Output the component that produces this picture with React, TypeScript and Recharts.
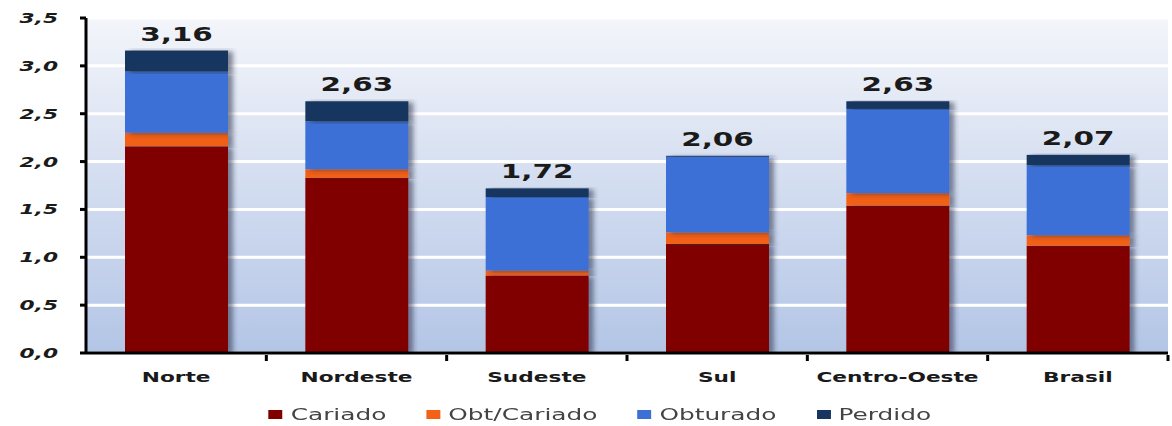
import React from "react";
import {
  BarChart,
  Bar,
  XAxis,
  YAxis,
  CartesianGrid,
  Legend,
  LabelList,
} from "recharts";

const regions = ["Norte", "Nordeste", "Sudeste", "Sul", "Centro-Oeste", "Brasil"];
const cariado = [2.16, 1.83, 0.81, 1.14, 1.54, 1.12];
const obtCariado = [0.14, 0.09, 0.05, 0.12, 0.13, 0.11];
const obturado = [0.64, 0.5, 0.77, 0.79, 0.88, 0.73];
const perdido = [0.22, 0.21, 0.09, 0.01, 0.08, 0.11];
const totals = [3.16, 2.63, 1.72, 2.06, 2.63, 2.07];
const yTicks = [0, 0.5, 1, 1.5, 2, 2.5, 3, 3.5];

const series = [
  { key: "cariado", name: "Cariado", color: "#800000" },
  { key: "obtCariado", name: "Obt/Cariado", color: "#f26116" },
  { key: "obturado", name: "Obturado", color: "#3c70d6" },
  { key: "perdido", name: "Perdido", color: "#17365f" },
];

const data = regions.map((r, i) => ({
  region: r,
  cariado: cariado[i],
  obtCariado: obtCariado[i],
  obturado: obturado[i],
  perdido: perdido[i],
  total: totals[i],
}));

const W = 1172;
const H = 426;
const MARGIN = { top: 18, right: 4, left: 0, bottom: 0 };
const Y_W = 86;
const BAND = (W - MARGIN.left - MARGIN.right - Y_W) / regions.length;
const FONT = "'DejaVu Sans', Verdana, sans-serif";
// the source image is stretched sideways, so text is widened the same way
const STRETCH = 1.55;

const fmt = (v: number, d: number) => v.toFixed(d).replace(".", ",");

// bar segment with a soft shadow to the right
const ShadowBar = (props: any) => {
  const { x, y, width, height, fill } = props;
  if (!height || height <= 0) return null;
  return <rect x={x} y={y} width={width} height={height} fill={fill} filter="url(#barShadow)" />;
};

const WideText = ({ x, y, anchor, size, italic, children }: any) => (
  <text
    transform={`translate(${x},${y}) scale(${STRETCH},1)`}
    textAnchor={anchor}
    fontFamily={FONT}
    fontWeight="bold"
    fontStyle={italic ? "italic" : "normal"}
    fontSize={size}
    fill="#1a1a1a"
  >
    {children}
  </text>
);

const XTick = (props: any) => {
  const { x, y, payload } = props;
  return (
    <g>
      <line x1={x + BAND / 2} y1={y - 6} x2={x + BAND / 2} y2={y} stroke="#000" strokeWidth={3} />
      <WideText x={x} y={y + 21} anchor="middle" size={14}>
        {payload.value}
      </WideText>
    </g>
  );
};

const YTick = (props: any) => {
  const { x, y, payload } = props;
  return (
    <WideText x={x - 20} y={y + 5} anchor="end" size={14} italic>
      {fmt(payload.value, 1)}
    </WideText>
  );
};

const TotalLabel = (props: any) => {
  const { x, y, width, value } = props;
  return (
    <WideText x={x + width / 2} y={y - 10} anchor="middle" size={19}>
      {fmt(value, 2)}
    </WideText>
  );
};

const LegendBox = () => (
  <div
    style={{
      display: "flex",
      justifyContent: "center",
      alignItems: "center",
      fontFamily: FONT,
      fontSize: 16,
      color: "#444",
      width: 1200,
      paddingTop: 6,
      transform: `scaleX(${STRETCH})`,
      transformOrigin: "600px 50%",
    }}
  >
    {series.map((s, i) => (
      <span
        key={s.key}
        style={{ display: "flex", alignItems: "center", marginRight: i < series.length - 1 ? 26 : 0 }}
      >
        <span
          style={{ display: "inline-block", width: 9, height: 9, background: s.color, marginRight: 5 }}
        />
        <span>{s.name}</span>
      </span>
    ))}
  </div>
);

export default function App() {
  return (
    <div style={{ width: W, height: H, background: "#fff", overflow: "hidden" }}>
      <style>{"body{margin:0}"}</style>
      <BarChart width={W} height={H} data={data} margin={MARGIN} barSize={103}>
        <defs>
          <linearGradient id="plotBg" x1="0" y1="0" x2="0" y2="1">
            <stop offset="0%" stopColor="#f3f5fa" />
            <stop offset="100%" stopColor="#b3c5e6" />
          </linearGradient>
          <filter id="barShadow" x="-10%" y="-10%" width="130%" height="120%">
            <feDropShadow dx="5" dy="1" stdDeviation="2.5" floodColor="#27324a" floodOpacity="0.55" />
          </filter>
        </defs>
        <CartesianGrid
          vertical={false}
          stroke="#ffffff"
          strokeWidth={3}
          fill="url(#plotBg)"
          fillOpacity={1}
        />
        <XAxis
          dataKey="region"
          height={46}
          axisLine={{ stroke: "#000", strokeWidth: 3 }}
          tickLine={false}
          tick={<XTick />}
          interval={0}
        />
        <YAxis
          width={Y_W}
          domain={[0, 3.5]}
          ticks={yTicks}
          axisLine={{ stroke: "#000", strokeWidth: 3 }}
          tickLine={{ stroke: "#000", strokeWidth: 3 }}
          tickSize={6}
          tick={<YTick />}
          allowDataOverflow
        />
        <Legend height={27} content={<LegendBox />} />
        {series.map((s, i) => (
          <Bar
            key={s.key}
            dataKey={s.key}
            name={s.name}
            stackId="a"
            fill={s.color}
            shape={<ShadowBar />}
            isAnimationActive={false}
          >
            {i === series.length - 1 && <LabelList dataKey="total" content={<TotalLabel />} />}
          </Bar>
        ))}
      </BarChart>
    </div>
  );
}
